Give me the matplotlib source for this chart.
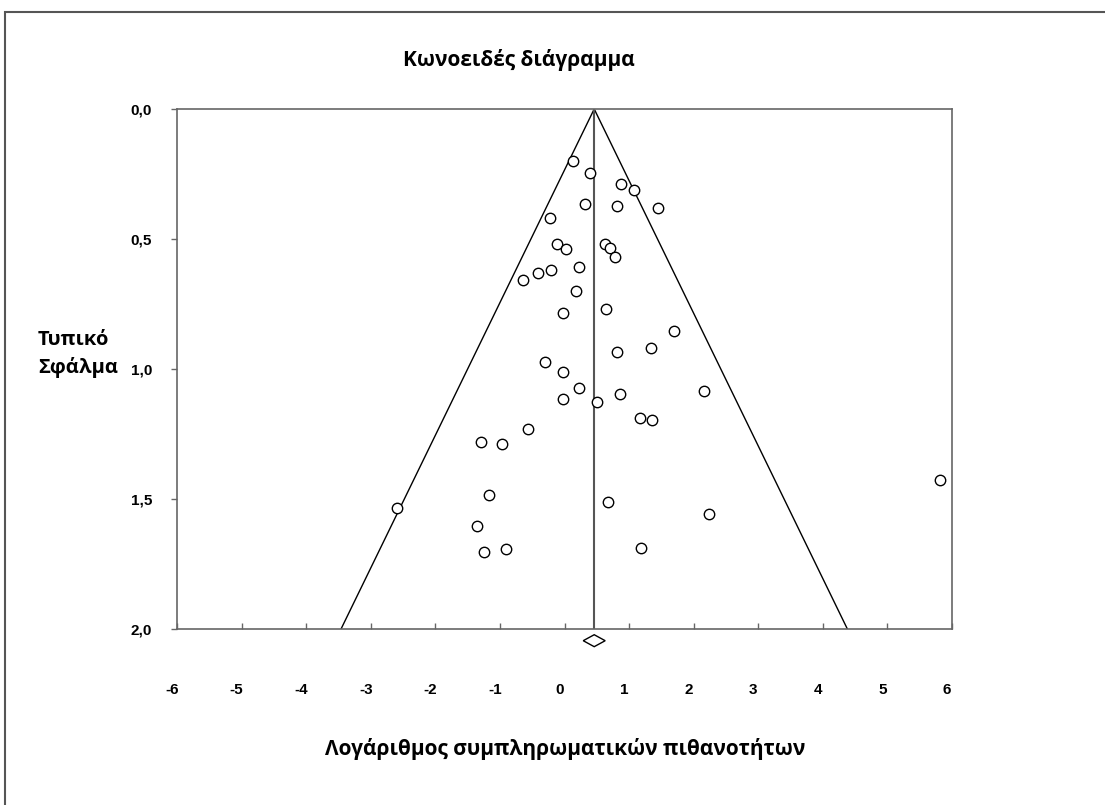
import matplotlib
matplotlib.use("Agg")
import matplotlib.pyplot as plt
import matplotlib.transforms as mtransforms
from matplotlib.patches import Rectangle, Polygon

# log odds ratio of each study and its standard error
log_or = [0.13, 0.39, 0.88, 1.07, 0.31, 0.82, 1.44, -0.23, -0.12, 0.03,
          0.63, 0.71, 0.78, 0.22, -0.21, -0.41, -0.64, 0.18, -0.02, 0.65,
          1.69, 0.82, 1.34, -0.30, -0.02, 0.23, 2.16, -0.02, 0.86, 0.50,
          1.17, 1.36, -0.56, -1.29, -0.97, -1.17, -2.60, 0.68, 2.23, -1.36,
          -1.24, -0.90, 1.19, 5.81]
se = [0.199, 0.245, 0.287, 0.313, 0.365, 0.372, 0.380, 0.419, 0.519, 0.538,
      0.518, 0.533, 0.570, 0.609, 0.620, 0.631, 0.656, 0.701, 0.783, 0.771,
      0.854, 0.936, 0.920, 0.974, 1.012, 1.074, 1.086, 1.114, 1.095, 1.126,
      1.188, 1.197, 1.232, 1.282, 1.290, 1.485, 1.536, 1.513, 1.556, 1.604,
      1.705, 1.692, 1.688, 1.426]

pooled = 0.46
pooled_lo = 0.29
pooled_hi = 0.63
se_max = 2.0

x_ticks = [-6, -5, -4, -3, -2, -1, 0, 1, 2, 3, 4, 5, 6]
y_ticks = [0.0, 0.5, 1.0, 1.5, 2.0]
y_tick_labels = ["0,0", "0,5", "1,0", "1,5", "2,0"]

title_font = ["Open Sans", "DejaVu Sans"]
tick_font = ["Liberation Sans", "DejaVu Sans"]

fig = plt.figure(figsize=(11.05, 8.05), dpi=100)
ax = fig.add_axes([177 / 1105, 1 - 629 / 805, (952 - 177) / 1105, (629 - 109) / 805])

# outer chart frame
fig.patches.append(Rectangle((5 / 1105, -0.1), 1.2, 1 - 12 / 805 + 0.1,
                             transform=fig.transFigure, fill=False,
                             edgecolor="#555555", linewidth=1.5))

# funnel: pooled estimate +/- 1.96 * SE
ax.plot([pooled - 1.96 * se_max, pooled, pooled + 1.96 * se_max],
        [se_max, 0, se_max], color="black", linewidth=1)
ax.plot([pooled, pooled], [0, se_max], color="#555555", linewidth=1.5)

ax.plot(log_or, se, linestyle="none", marker="o", markersize=7.5,
        markerfacecolor="white", markeredgecolor="black", markeredgewidth=1)

# diamond for the pooled estimate under the axis
ymid = 2.045
dh = 0.023
ax.add_patch(Polygon([[pooled_lo, ymid], [pooled, ymid - dh],
                      [pooled_hi, ymid], [pooled, ymid + dh]],
                     closed=True, fill=False, edgecolor="black",
                     linewidth=1, clip_on=False))

ax.set_xlim(-6, 6)
ax.set_ylim(2.0, 0.0)
ax.set_xticks(x_ticks)
ax.set_xticklabels([str(t) for t in x_ticks])
ax.set_yticks(y_ticks)
ax.set_yticklabels(y_tick_labels)

for side in ax.spines.values():
    side.set_color("#666666")
    side.set_linewidth(1.2)

ax.tick_params(axis="x", direction="in", length=4, width=1, color="#666666",
               pad=39)
ax.tick_params(axis="y", direction="out", length=4, width=1, color="#666666",
               pad=14)
for lbl in ax.get_xticklabels() + ax.get_yticklabels():
    lbl.set_fontfamily(tick_font)
    lbl.set_fontweight("bold")
    lbl.set_fontsize(11)
shift = mtransforms.ScaledTranslation(-5 / 100, 0, fig.dpi_scale_trans)
for lbl in ax.get_xticklabels():
    lbl.set_transform(lbl.get_transform() + shift)

fig.text(403 / 1105, 1 - 60 / 805, "Κωνοειδές διάγραμμα", ha="left",
         va="center", fontsize=15, fontweight="bold", family=title_font)
fig.text(565 / 1105, 1 - 749 / 805, "Λογάριθμος συμπληρωματικών πιθανοτήτων",
         ha="center", va="center", fontsize=15, fontweight="bold",
         family=title_font)
fig.text(38 / 1105, 1 - 354 / 805, "Τυπικό\nΣφάλμα", ha="left", va="center",
         fontsize=14.5, fontweight="bold", family=title_font, linespacing=1.45)

fig.savefig("out.png", dpi=100)
